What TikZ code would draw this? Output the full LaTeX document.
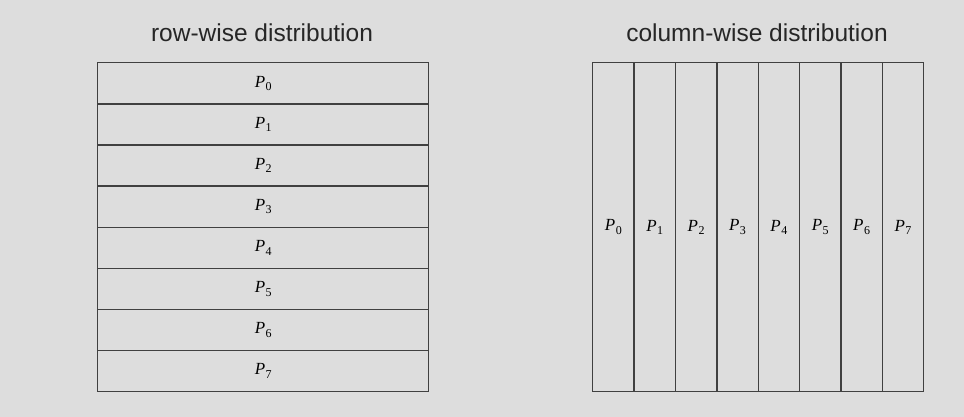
\documentclass[tikz,border=0pt]{standalone}
\usepackage{fontspec}
\setsansfont{Liberation Sans}
\newfontfamily\serfont{Liberation Serif}
\newcommand{\Pl}[1]{{\serfont\itshape P}\kern0.5pt\raisebox{-3.5pt}{\serfont\fontsize{12}{14}\selectfont #1}}
\begin{document}
\begin{tikzpicture}[x=1pt,y=-1pt,
  cell/.style={draw=black!75,line width=1.4pt,inner sep=0pt,anchor=north west,font=\fontsize{17}{20}\selectfont},
  ttl/.style={anchor=base,inner sep=0pt,text=black!85,font=\sffamily\fontsize{24.5}{29}\selectfont}]
\useasboundingbox[fill={rgb,255:red,221;green,221;blue,221}] (0,0) rectangle (964,417);
\node[ttl] (t1) at (262,42) {row-wise distribution};
\node[ttl] (t2) at (757,42) {column-wise distribution};
\foreach \i in {0,...,7}{
  \node[cell,minimum width=331pt,minimum height=41.125pt] (r\i) at (97,{62+41.125*\i}) {\Pl{\i}};
  \node[cell,minimum width=41.375pt,minimum height=329pt] (c\i) at ({592+41.375*\i},62) {\Pl{\i}};
}
\end{tikzpicture}
\end{document}
